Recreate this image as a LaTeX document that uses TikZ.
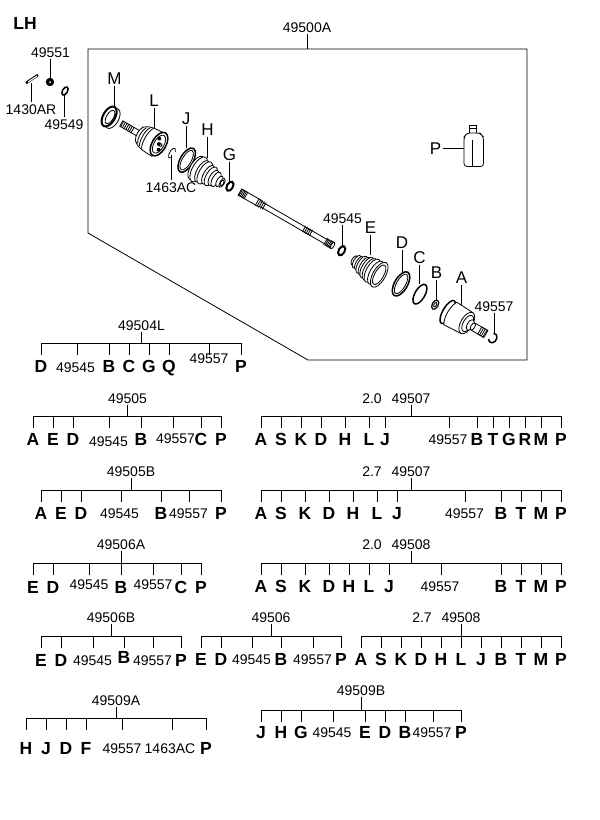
\documentclass[tikz,border=0pt]{standalone}
\usepackage{fontspec}
\setmainfont{Liberation Sans}
\usepackage{tikz}
\usetikzlibrary{positioning}
\tikzstyle{partno} = [font=\fontsize{14}{16}\selectfont, inner sep=1.5pt, text height=10pt, text depth=0pt]
\tikzstyle{callout} = [font=\fontsize{17}{19}\selectfont, inner sep=1.5pt, text height=12pt, text depth=0pt]
\tikzstyle{treeletter} = [font=\fontsize{17.5}{19}\selectfont\bfseries, inner sep=1pt, text height=12pt, text depth=0pt]
\tikzstyle{line} = [draw=black, line width=0.8pt]
\tikzstyle{part} = [draw=black, fill=white, line width=0.8pt]
\tikzstyle{heavy} = [draw=black, fill=white, line width=1.5pt]

% title, stem and bar of one tree: name, title, x, title y, bar y, left, right
\newcommand{\treehead}[7]{
    \node (#1) [partno] at (#3, #4) {#2};
    \coordinate (#1l) at (#6, #5);
    \coordinate (#1r) at (#7, #5);
    \draw [line] (#1l) -- (#1r);
    \draw [line] (#1) -- (#1 |- #1l);
}
% name, bar y, letter y, list of x/letter
\newcommand{\treeletters}[4]{
    \foreach \x/\txt in {#4} {
        \node (#1-\txt) [treeletter] at (\x, #3) {\txt};
        \coordinate (#1-\txt-t) at (\x, #2+12);
        \draw [line] (#1-\txt-t |- #1l) -- (#1-\txt-t);
    }
}
% name, bar y, list of x/label x/label y/number
\newcommand{\treenums}[3]{
    \foreach \x/\lx/\ly/\txt in {#3} {
        \node (#1-\txt) [partno] at (\lx, \ly) {\txt};
        \coordinate (#1-\txt-t) at (\x, #2+12);
        \draw [line] (#1-\txt-t |- #1l) -- (#1-\txt-t);
    }
}

\begin{document}
\begin{tikzpicture}[x=1pt, y=-1pt]
    \useasboundingbox (0, 0) rectangle (600, 820);

    \node (lh) [treeletter] at (25, 23) {LH};
    \draw [line] (88, 49) -- (527, 49) -- (527, 360) -- (308, 360) -- (88, 233) -- cycle;

    % axle parts, along the axis from the seal to the clip
    \begin{scope}[shift={(110, 117)}, rotate=-30]
        % M
        \draw [part] (3, 0) ellipse [x radius=6, y radius=11];
        \draw [heavy, line width=2pt] (-1, 0) ellipse [x radius=6, y radius=11];
        \draw [part] (0, 0) ellipse [x radius=3.5, y radius=7.5];
        % L
        \draw [part] (13, -3) rectangle (36, 3);
        \foreach \t in {14, 16, ..., 26} \draw [line] (\t, -3.5) -- (\t, 3.5);
        \draw [part] (34, -8) .. controls (38, -12) and (45, -13) .. (56, -13) -- (56, 13) .. controls (45, 13) and (38, 12) .. (34, 8) .. controls (31, 4) and (31, -4) .. cycle;
        \foreach \t/\r in {37/9, 40/10.5, 43/11.5} \draw [line] (\t, -\r) .. controls (\t-3, -\r/2) and (\t-3, \r/2) .. (\t, \r);
        \draw [heavy] (56, -1) ellipse [x radius=7, y radius=13];
        \draw [part] (56, -1) ellipse [x radius=5, y radius=10];
        \foreach \s in {-5, 0, 5} \fill (56+\s/2, \s-1) circle (2);
        \draw [part] (58, -1) circle (1.5);
        % 1463AC
        \draw [line] (73, 5) arc [start angle=60, end angle=330, x radius=2.5, y radius=5.5];
        % J
        \draw [heavy] (88, -1) ellipse [x radius=6.5, y radius=13.5];
        \draw [part] (88, -1) ellipse [x radius=4.5, y radius=11];
        % H
        \foreach \t/\r in {100/13, 103/14, 107/12, 110/12.5, 114/10.5, 117/10.5, 120/8.5, 123/8, 127/6, 130/5} \draw [part] (\t, 1) ellipse [x radius=0.45*\r, y radius=\r];
        \draw [line] (130, 1) ellipse [x radius=1.5, y radius=3];
        % G
        \draw [heavy, line width=2pt] (138.5, 0) ellipse [x radius=3, y radius=5];
        % shaft
        \draw [part] (150, -3.5) -- (172, -3.5) -- (176, -2.5) -- (250, -2.5) -- (257, -3.5) -- (257, 3.5) -- (250, 2.5) -- (176, 2.5) -- (172, 3.5) -- (150, 3.5) -- cycle;
        \foreach \t in {151, 152.5, ..., 158} \draw [line] (\t, -4) -- (\t, 4);
        \foreach \t in {170, 172, ..., 178} \draw [line] (\t, -4) -- (\t, 4);
        \foreach \t in {224, 226, ..., 232} \draw [line] (\t, -3.5) -- (\t, 3.5);
        \foreach \t in {249, 250.5, ..., 255} \draw [line] (\t, -4) -- (\t, 4);
        \draw [part] (257, 0) ellipse [x radius=1.5, y radius=3.5];
        % 49545
        \draw [heavy, line width=2pt] (267.5, 0) ellipse [x radius=3, y radius=5];
        % E
        \foreach \t/\r in {283/5, 286/7, 289/7.5, 292/9.5, 295/10, 298/11.5, 301/12, 304/13, 308/13, 312/14} \draw [part] (\t, 2) ellipse [x radius=0.45*\r, y radius=\r];
        \draw [line] (312, 2) ellipse [x radius=4.5, y radius=11];
        % D
        \draw [heavy] (335.5, -1) ellipse [x radius=6.5, y radius=13.5];
        \draw [part] (335.5, -1) ellipse [x radius=4.5, y radius=11];
        % C
        \draw [heavy] (357, -1.5) ellipse [x radius=5, y radius=11];
        % B
        \draw [heavy, line width=1.2pt] (375.5, 0) ellipse [x radius=3, y radius=5];
        \draw [line] (375.5, 0) ellipse [x radius=1.2, y radius=2.5];
        % A
        \draw [part] (420, -4) rectangle (434, 4);
        \foreach \t in {427, 429, 431, 433} \draw [line] (\t, -4.5) -- (\t, 4.5);
        \draw [heavy] (390, 0) ellipse [x radius=5, y radius=13];
        \draw [part] (393, -13) -- (412, -12) -- (412, 12) -- (393, 13) .. controls (389, 7) and (389, -7) .. cycle;
        \draw [part] (412, 0) ellipse [x radius=6, y radius=12];
        \draw [part] (413, 0) ellipse [x radius=4.5, y radius=9];
        \draw [part] (416, 0) ellipse [x radius=3, y radius=6];
        \draw [part] (419, 0) ellipse [x radius=2, y radius=4];
        % 49557
        \draw [line, line width=1.5pt] (440.3, -4.5) arc [start angle=245, end angle=505, x radius=4, y radius=5];
    \end{scope}

    % loose parts beside the frame
    \draw [line, line width=2.6pt] (26, 83) -- (38, 75);
    \draw [white, line width=1pt] (28, 82) -- (37, 76);
    \fill (50, 82) circle (4.2);
    \fill [white] (50, 82) circle (1);
    \begin{scope}[shift={(65, 91)}, rotate=-30]
        \draw [heavy] (0, 0) ellipse [x radius=2.5, y radius=4.5];
    \end{scope}

    % bottle
    \draw [part] (469.5, 125) rectangle (476.5, 133);
    \draw [line] (469.5, 128) -- (476.5, 128);
    \draw [part, rounded corners=3pt] (467, 133) -- (480, 133) -- (483.5, 137) -- (483.5, 166.5) -- (464, 166.5) -- (464, 137) -- cycle;
    \draw [line] (472, 140) -- (472, 166);

    % callouts
    \node (no500) [partno] at (307, 27) {49500A};
    \coordinate (no500e) at (307, 49);
    \draw [line] (no500) -- (no500e);
    \node (no551) [partno] at (50.5, 52) {49551};
    \coordinate (no551e) at (50.5, 78);
    \draw [line] (no551) -- (no551e);
    \node (no430) [partno] at (31, 109) {1430AR};
    \coordinate (no430e) at (31, 83);
    \draw [line] (no430) -- (no430e);
    \node (no549) [partno] at (64, 124) {49549};
    \coordinate (no549e) at (64, 95);
    \draw [line] (no549) -- (no549e);
    \node (no463) [partno] at (171, 187) {1463AC};
    \coordinate (no463e) at (171, 155);
    \draw [line] (no463) -- (no463e);
    \node (no545) [partno] at (342.5, 218) {49545};
    \coordinate (no545e) at (342.5, 247);
    \draw [line] (no545) -- (no545e);
    \node (no557) [partno] at (494, 306) {49557};
    \coordinate (no557e) at (494, 334);
    \draw [line] (no557) -- (no557e);

    \foreach \nm/\x/\ya/\yb in {M/114.5/78/107, L/154/100/129, J/186/118/148, H/207.5/129/158, G/229.5/154/182, E/370.5/227/255, D/402/242/272, C/419.5/257/284, B/436.5/272/300, A/461.5/277/305} {
        \node (lab\nm) [callout] at (\x, \ya) {\nm};
        \coordinate (end\nm) at (\x, \yb);
        \draw [line] (lab\nm) -- (end\nm);
    }
    \node (labP) [callout] at (435.5, 148) {P};
    \coordinate (endP) at (464, 148);
    \draw [line] (labP) -- (endP);

    % 49504L
    \treehead{a}{49504L}{141.5}{325}{343}{41}{241}
    \treeletters{a}{343}{366}{41/D, 109/B, 129/C, 149/G, 169/Q, 241/P}
    \treenums{a}{343}{77/75.5/367/49545, 209/209/358/49557}

    % 49505
    \treehead{b}{49505}{127.5}{398}{416}{33}{221}
    \treeletters{b}{416}{439}{33/A, 53/E, 73/D, 141/B, 201/C, 221/P}
    \treenums{b}{416}{109/108.5/441/49545, 173/175.5/438.5/49557}

    % 49505B
    \treehead{c}{49505B}{131}{471}{490}{41}{221}
    \treeletters{c}{490}{513}{41/A, 61/E, 81/D, 161/B, 221/P}
    \treenums{c}{490}{121/119.5/513/49545, 189/188.5/513/49557}

    % 49506A
    \treehead{d}{49506A}{121}{544}{563}{33}{201}
    \treeletters{d}{563}{587}{33/E, 53/D, 121/B, 181/C, 201/P}
    \treenums{d}{563}{89/89/584/49545, 153/153/584/49557}

    % 49506B
    \treehead{e}{49506B}{111}{617}{636}{41}{181}
    \treeletters{e}{636}{660}{41/E, 61/D, 181/P}
    \treeletters{e}{636}{657.5}{124/B}
    \treenums{e}{636}{93/92.5/660/49545, 153/152.5/660/49557}

    % 49506
    \treehead{f}{49506}{271}{617}{636}{201}{341}
    \treeletters{f}{636}{659}{201/E, 221/D, 281/B, 341/P}
    \treenums{f}{636}{252/251.5/659/49545, 313/312.5/659/49557}

    % 49509A
    \treehead{g}{49509A}{116}{700}{718}{26}{206}
    \treeletters{g}{718}{748}{26/H, 46/J, 66/D, 86/F, 206/P}
    \treenums{g}{718}{122/122/748/49557, 172/170/748/1463AC}

    % 49509B
    \treehead{h}{49509B}{361}{690}{710}{261}{461}
    \treeletters{h}{710}{732}{261/J, 281/H, 301/G, 365/E, 385/D, 405/B, 461/P}
    \treenums{h}{710}{333/332/732/49545, 433/432/732/49557}

    % 2.0 49507
    \treehead{k}{49507}{411}{398}{416}{261}{561}
    \node (k20) [partno] at (372, 398) {2.0};
    \treeletters{k}{416}{439}{261/A, 281/S, 301/K, 321/D, 345/H, 369/L, 385/J, 477/B, 493/T, 509/G, 525/R, 541/M, 561/P}
    \treenums{k}{416}{449/448/439/49557}

    % 2.7 49507
    \treehead{m}{49507}{411}{471}{490}{261}{561}
    \node (m27) [partno] at (372, 471) {2.7};
    \treeletters{m}{490}{513}{261/A, 281/S, 305/K, 329/D, 353/H, 377/L, 397/J, 501/B, 521/T, 541/M, 561/P}
    \treenums{m}{490}{465/464.5/513/49557}

    % 2.0 49508
    \treehead{n}{49508}{411}{544}{563}{261}{561}
    \node (n20) [partno] at (372, 544) {2.0};
    \treeletters{n}{563}{586}{261/A, 281/S, 305/K, 329/D, 349/H, 369/L, 389/J, 501/B, 521/T, 541/M, 561/P}
    \treenums{n}{563}{441/440/586/49557}

    % 2.7 49508
    \treehead{p}{49508}{461}{617}{636}{361}{561}
    \node (p27) [partno] at (422, 617) {2.7};
    \treeletters{p}{636}{659}{361/A, 381/S, 401/K, 421/D, 441/H, 461/L, 481/J, 501/B, 521/T, 541/M, 561/P}

\end{tikzpicture}
\end{document}
